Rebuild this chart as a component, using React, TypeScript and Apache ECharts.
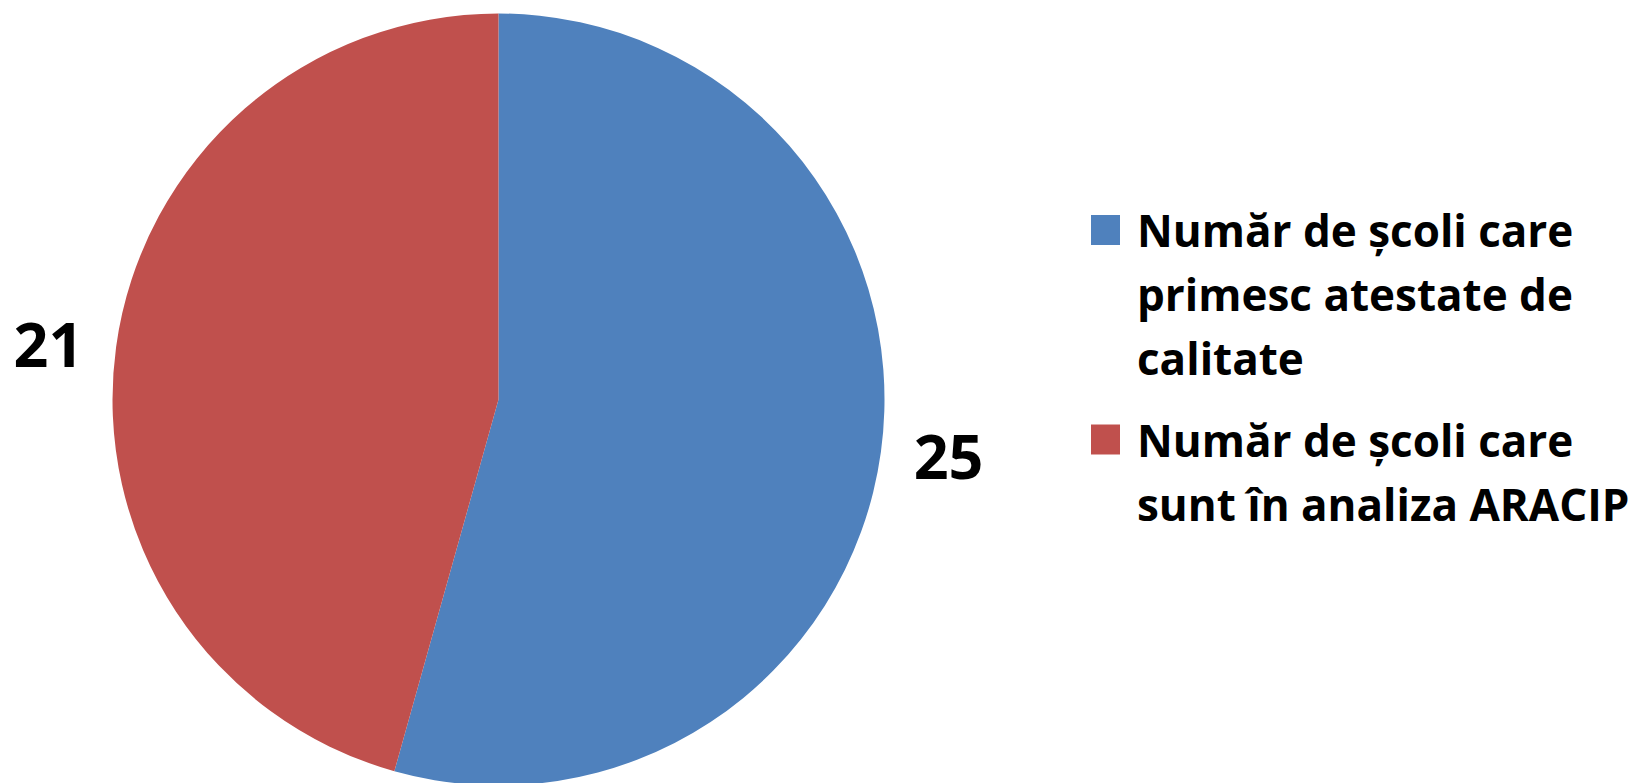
import React, { useEffect, useRef } from "react";
import * as echarts from "echarts";

const categories = [
  "Număr de școli care primesc atestate de calitate",
  "Număr de școli care sunt în analiza ARACIP",
];
const legendLines = [
  ["Număr de școli care", "primesc atestate de", "calitate"],
  ["Număr de școli care", "sunt în analiza ARACIP"],
];
const values = [25, 21];
const colors = ["#4F81BD", "#C0504D"];

const FONT = "'Open Sans', sans-serif";
const LINE_H = 64;

export default function App() {
  const ref = useRef<HTMLDivElement>(null);
  useEffect(() => {
    if (!ref.current) return;
    const chart = echarts.init(ref.current, undefined, { renderer: "svg" });
    const legendTops = [70, 343.5];
    const legends = categories.map((name, i) => {
      const n = legendLines[i].length;
      return {
        show: true,
        orient: "vertical",
        left: 1091,
        top: legendTops[i],
        padding: 0,
        itemWidth: 29,
        itemHeight: 30,
        icon: "rect",
        data: [name],
        formatter: () => "\n".repeat(n - 1) + legendLines[i].join("\n"),
        textStyle: {
          fontFamily: FONT,
          fontWeight: "bold",
          fontSize: 44,
          lineHeight: LINE_H,
          color: "#000",
          padding: [0, 0, 0, 12],
        },
      };
    });
    chart.setOption({
      animation: false,
      color: colors,
      legend: legends,
      series: [
        {
          type: "pie",
          center: [498.5, 399.5],
          radius: 386,
          startAngle: 90,
          clockwise: true,
          avoidLabelOverlap: false,
          data: categories.map((name, i) => ({ name, value: values[i] })),
          label: {
            show: true,
            position: "outside",
            formatter: "{c}",
            fontFamily: FONT,
            fontWeight: "bold",
            fontSize: 61,
            color: "#000",
            distanceToLabelLine: 5,
          },
          labelLine: { show: false, length: 28, length2: 0 },
          itemStyle: { borderWidth: 0 },
          emphasis: { disabled: true },
        },
      ],
    });
    return () => chart.dispose();
  }, []);
  return (
    <div
      ref={ref}
      style={{ position: "fixed", left: 0, top: 0, width: 1632, height: 783, background: "#fff" }}
    />
  );
}
